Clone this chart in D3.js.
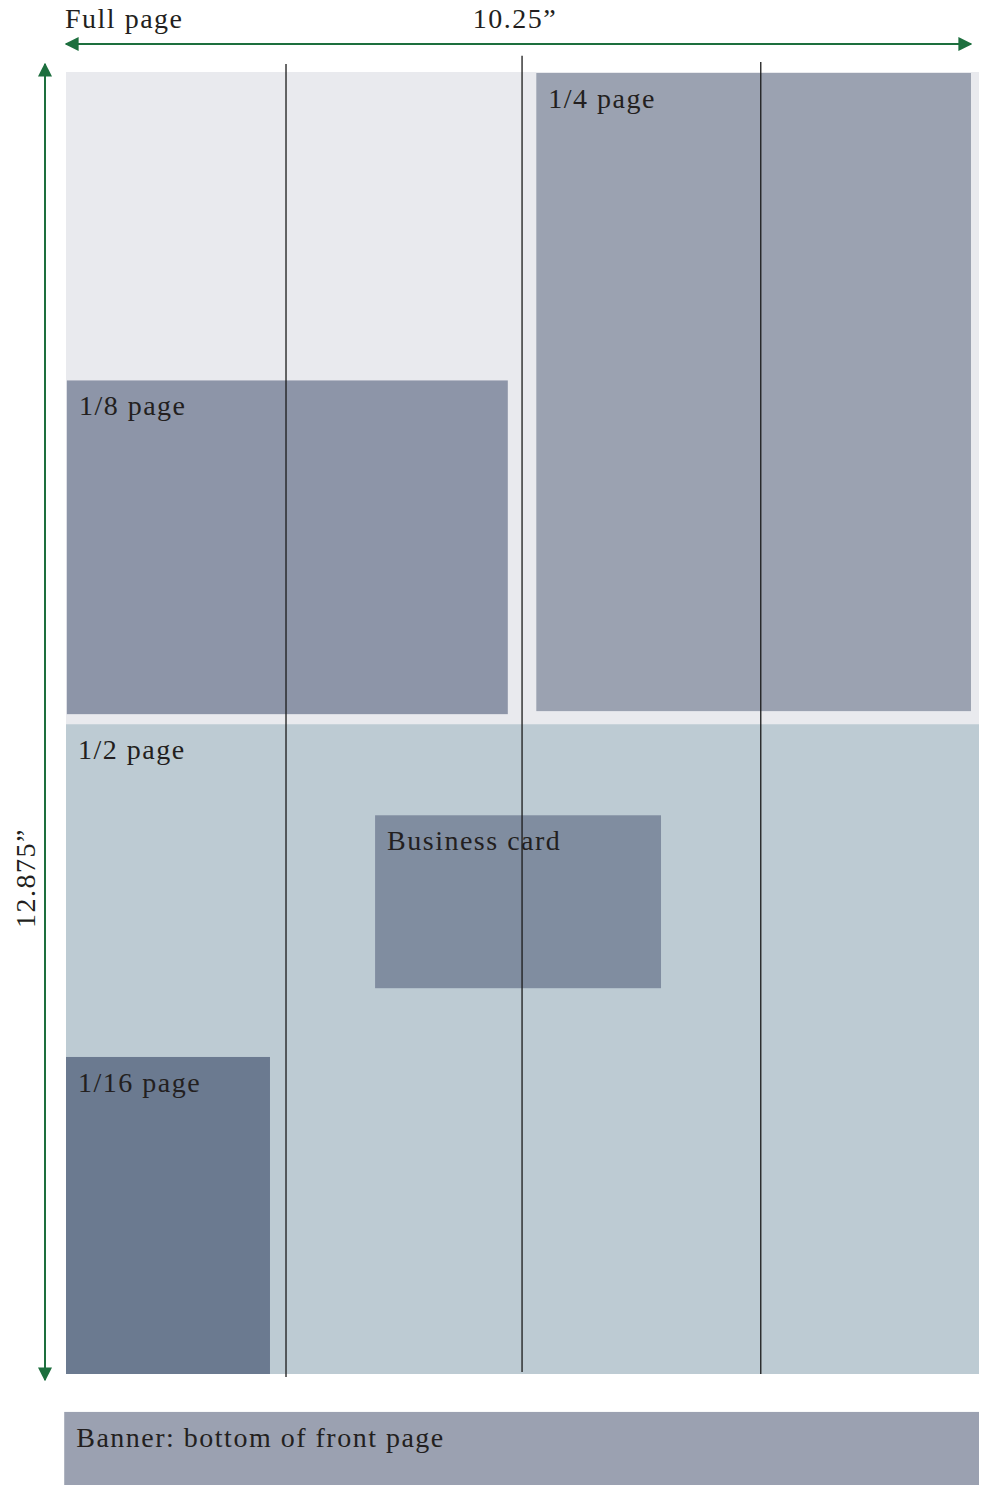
<!DOCTYPE html>
<html>
<head>
<meta charset="utf-8">
<script src="https://cdn.jsdelivr.net/npm/d3@7"></script>
<style>
  body { margin: 0; background: #fff; }
  svg { display: block; }
  .label { font-family: "Liberation Serif", "DejaVu Serif", serif; font-size: 28px; letter-spacing: 1.5px; fill: #231f20; }
</style>
</head>
<body>
<svg id="chart"></svg>
<script>
// page size in inches
var pageWidth = 10.25, pageHeight = 12.875;
var widthLabel = "10.25\u201d", heightLabel = "12.875\u201d";

// ad sizes, in inches from top-left of page
var adNames = ["Full page", "1/4 page", "1/8 page", "1/2 page", "Business card", "1/16 page", "Banner: bottom of front page"];
var adX0 = [0, 5.28, 0.01, 0, 3.47, 0, -0.02];
var adX1 = [10.25, 10.16, 4.96, 10.25, 6.68, 2.29, 10.25];
var adY0 = [0, 0.01, 3.05, 6.45, 7.35, 9.74, 13.25];
var adY1 = [12.875, 6.32, 6.35, 12.875, 9.06, 12.875, 13.98];
var adFill = ["#e9eaee", "#9ba2b1", "#8d95a8", "#bdcbd3", "#808da0", "#6b7a90", "#9ba1b1"];

// column guides
var colX = [2.47, 5.12, 7.80];
var colY0 = [-0.08, -0.16, -0.10];
var colY1 = [12.905, 12.855, 12.875];

var W = 984, H = 1485;
var svg = d3.select("#chart").attr("width", W).attr("height", H);

var x = d3.scaleLinear().domain([0, pageWidth]).range([66, 979]);
var y = d3.scaleLinear().domain([0, pageHeight]).range([72, 1374]);

var green = "#1d6f3e";
var defs = svg.append("defs");
defs.append("marker")
    .attr("id", "arrow")
    .attr("viewBox", "0 0 10 10")
    .attr("refX", 9).attr("refY", 5)
    .attr("markerWidth", 14).attr("markerHeight", 14)
    .attr("markerUnits", "userSpaceOnUse")
    .attr("orient", "auto-start-reverse")
  .append("path")
    .attr("d", "M0,0L10,5L0,10Z")
    .attr("fill", green);

var ads = adNames.map((d, i) => ({name: d, x0: adX0[i], x1: adX1[i], y0: adY0[i], y1: adY1[i], fill: adFill[i]}));

svg.selectAll(".ad")
    .data(ads)
  .enter().append("rect")
    .attr("class", "ad")
    .attr("x", d => x(d.x0))
    .attr("y", d => y(d.y0))
    .attr("width", d => x(d.x1) - x(d.x0))
    .attr("height", d => y(d.y1) - y(d.y0))
    .attr("fill", d => d.fill);

svg.selectAll(".col")
    .data(colX)
  .enter().append("line")
    .attr("class", "col")
    .attr("x1", d => x(d)).attr("x2", d => x(d))
    .attr("y1", (d, i) => y(colY0[i]))
    .attr("y2", (d, i) => y(colY1[i]))
    .attr("stroke", "#1a1a1a")
    .attr("stroke-width", 1.3);

// labels: full page sits above the box, the rest inside
svg.selectAll(".label")
    .data(ads)
  .enter().append("text")
    .attr("class", "label")
    .attr("x", (d, i) => i === 0 ? x(d.x0) - 1 : x(d.x0) + 12)
    .attr("y", (d, i) => i === 0 ? 28 : y(d.y0) + 35)
    .text(d => d.name);

// dimension arrows
svg.append("line")
    .attr("x1", x(0)).attr("x2", x(pageWidth) - 8)
    .attr("y1", 44).attr("y2", 44)
    .attr("stroke", green).attr("stroke-width", 2)
    .attr("marker-start", "url(#arrow)")
    .attr("marker-end", "url(#arrow)");

svg.append("text")
    .attr("class", "label")
    .attr("x", 515).attr("y", 28)
    .attr("text-anchor", "middle")
    .text(widthLabel);

svg.append("line")
    .attr("x1", 45).attr("x2", 45)
    .attr("y1", y(0) - 8).attr("y2", y(pageHeight) + 6)
    .attr("stroke", green).attr("stroke-width", 2)
    .attr("marker-start", "url(#arrow)")
    .attr("marker-end", "url(#arrow)");

svg.append("text")
    .attr("class", "label")
    .attr("transform", "translate(35," + 878 + ") rotate(-90)")
    .attr("text-anchor", "middle")
    .text(heightLabel);
</script>
</body>
</html>
